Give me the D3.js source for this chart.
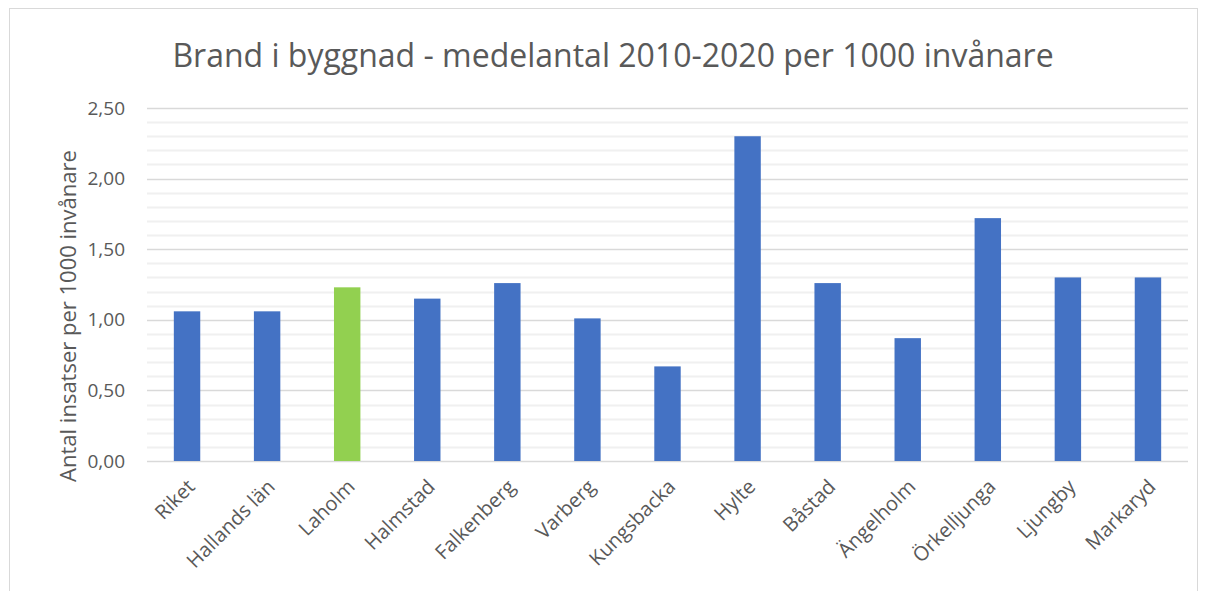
<!DOCTYPE html>
<html>
<head>
<meta charset="utf-8">
<script src="https://cdn.jsdelivr.net/npm/d3@7"></script>
<style>
  body { margin: 0; background: #fff; }
  text { font-family: "Open Sans", sans-serif; fill: #595959; }
</style>
</head>
<body>
<div id="chart"></div>
<script>
// data
var kommuner = ["Riket", "Hallands län", "Laholm", "Halmstad", "Falkenberg", "Varberg",
                "Kungsbacka", "Hylte", "Båstad", "Ängelholm", "Örkelljunga", "Ljungby", "Markaryd"];
var insatser = [1.06, 1.06, 1.23, 1.15, 1.26, 1.01, 0.67, 2.30, 1.26, 0.87, 1.72, 1.30, 1.30];
var highlight = "Laholm";
var yTicks = [0, 0.5, 1, 1.5, 2, 2.5];

var W = 1205, H = 591;
var margin = {top: 108, right: 17, bottom: 130, left: 147};
var width = W - margin.left - margin.right,
    height = H - margin.top - margin.bottom;

var svg = d3.select("#chart").append("svg")
    .attr("width", W)
    .attr("height", H);

// chart border
svg.append("rect")
    .attr("x", 9.5).attr("y", 8.5)
    .attr("width", 1188).attr("height", 600)
    .attr("fill", "none").attr("stroke", "#d9d9d9");

svg.append("text")
    .attr("x", 613).attr("y", 67)
    .attr("text-anchor", "middle")
    .style("font-size", "32px")
    .text("Brand i byggnad - medelantal 2010-2020 per 1000 invånare");

var g = svg.append("g")
    .attr("transform", "translate(" + margin.left + "," + margin.top + ")");

var x = d3.scaleBand()
    .domain(kommuner)
    .range([0, width])
    .paddingInner(0.67)
    .paddingOuter(0.335);

var y = d3.scaleLinear()
    .domain([0, 2.5])
    .range([height, 0]);

// minor gridlines every 0.1
g.selectAll(".minor")
  .data(d3.range(1, 25).map(function(i) { return i / 10; }).filter(function(v) { return Math.round(v * 10) % 5 != 0; }))
  .enter().append("line")
    .attr("x1", 0).attr("x2", width)
    .attr("y1", function(d) { return Math.round(y(d)) + 0.5; })
    .attr("y2", function(d) { return Math.round(y(d)) + 0.5; })
    .attr("stroke", "#f0f0f0")
    .attr("stroke-width", 2);

// major gridlines
g.selectAll(".major")
  .data(yTicks)
  .enter().append("line")
    .attr("x1", 0).attr("x2", width)
    .attr("y1", function(d) { return Math.round(y(d)) + 0.5; })
    .attr("y2", function(d) { return Math.round(y(d)) + 0.5; })
    .attr("stroke", "#d9d9d9")
    .attr("stroke-width", 1.5);

// y axis labels
var fmt = function(d) { return d3.format(".2f")(d).replace(".", ","); };
g.append("g")
    .call(d3.axisLeft(y).tickValues(yTicks).tickFormat(fmt).tickSize(0).tickPadding(22))
    .call(function(a) { a.select(".domain").remove(); })
    .selectAll("text")
      .style("font-size", "19px")
      .style("font-family", "'Open Sans', sans-serif")
      .attr("fill", "#595959");

// bars
g.selectAll(".bar")
  .data(kommuner)
  .enter().append("rect")
    .attr("x", function(d) { return x(d); })
    .attr("width", x.bandwidth())
    .attr("y", function(d, i) { return y(insatser[i]); })
    .attr("height", function(d, i) { return height - y(insatser[i]); })
    .attr("fill", function(d) { return d == highlight ? "#92d050" : "#4472c4"; });

// x axis labels
g.append("g")
    .attr("transform", "translate(0," + height + ")")
    .call(d3.axisBottom(x).tickSize(0).tickPadding(0))
    .call(function(a) { a.select(".domain").remove(); })
    .selectAll("text")
      .style("font-size", "20px")
      .style("font-family", "'Open Sans', sans-serif")
      .attr("fill", "#595959")
      .attr("text-anchor", "end")
      .attr("dy", 0)
      .attr("transform", "translate(9,27) rotate(-45)");

// y axis title
svg.append("text")
    .attr("transform", "translate(76,316) rotate(-90)")
    .attr("text-anchor", "middle")
    .style("font-size", "22px")
    .text("Antal insatser per 1000 invånare");
</script>
</body>
</html>
